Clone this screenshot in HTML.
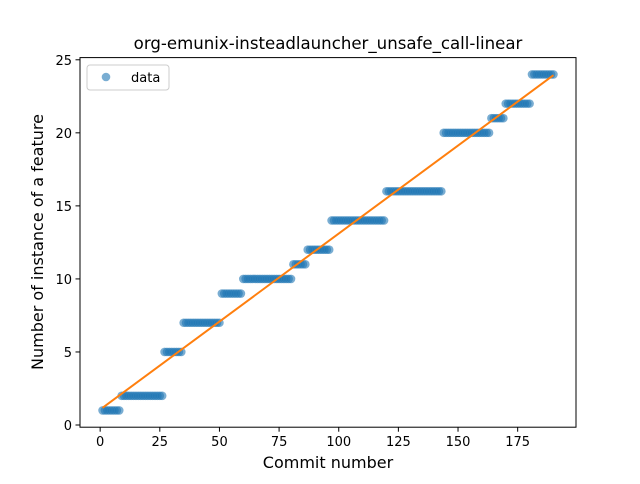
<!DOCTYPE html>
<html><head><meta charset="utf-8"><style>
body{margin:0;background:#fff;font-family:"DejaVu Sans","Liberation Sans",sans-serif}
</style></head><body>
<svg id="c" width="640" height="480" xmlns="http://www.w3.org/2000/svg" font-family="DejaVu Sans, Liberation Sans, sans-serif">
<rect width="640" height="480" fill="#fff"/>
</svg>
<script>
// step data: commits [start..end] have value
const stepStart = [1, 9, 27, 35, 51, 60, 81, 87, 97, 120, 144, 164, 170, 181];
const stepEnd   = [8, 26, 34, 50, 59, 80, 86, 96, 119, 143, 163, 169, 180, 190];
const stepValue = [1, 2, 5, 7, 9, 10, 11, 12, 14, 16, 20, 21, 22, 24];
const xTicks = [0, 25, 50, 75, 100, 125, 150, 175];
const yTicks = [0, 5, 10, 15, 20, 25];

const L=80,R=576,T=57.6,B=427.2;
const xMin=-8.45,xMax=199.45,yMin=-0.15,yMax=25.15;
const sx=v=>L+(v-xMin)/(xMax-xMin)*(R-L);
const sy=v=>B-(v-yMin)/(yMax-yMin)*(B-T);
const svg=document.getElementById('c');
const NS='http://www.w3.org/2000/svg';
function mk(tag,attrs,parent){const e=document.createElementNS(NS,tag);for(const k in attrs)e.setAttribute(k,attrs[k]);(parent||svg).appendChild(e);return e;}

const xs=[],ys=[];
for(let i=0;i<stepValue.length;i++)for(let c=stepStart[i];c<=stepEnd[i];c++){xs.push(c);ys.push(stepValue[i]);}

const pts=mk('g',{});


for(let i=0;i<xs.length;i++){
  const p=mk('circle',{cx:sx(xs[i]),cy:sy(ys[i]),r:4.3,fill:'#1f77b4','fill-opacity':0.6},pts);
  
  
}
// linear fit
const n=xs.length;let mx=0,my=0;for(let i=0;i<n;i++){mx+=xs[i];my+=ys[i];}mx/=n;my/=n;
let sxy=0,sxx=0;for(let i=0;i<n;i++){sxy+=(xs[i]-mx)*(ys[i]-my);sxx+=(xs[i]-mx)**2;}
const m=sxy/sxx,b=my-m*mx;
const x0=xs[0],x1=xs[n-1];
const fl=mk('line',{x1:sx(x0),y1:sy(m*x0+b),x2:sx(x1),y2:sy(m*x1+b),stroke:'#ff7f0e','stroke-width':2});



const fr=mk('rect',{x:L,y:T,width:R-L,height:B-T,fill:'none',stroke:'#000','stroke-width':1});



xTicks.forEach(t=>{
  const x=sx(t);
  mk('line',{x1:x,y1:B,x2:x,y2:B+4.5,stroke:'#000','stroke-width':1});
  const tx=mk('text',{x:x,y:B+19,'text-anchor':'middle','font-size':13});tx.textContent=t;
  
  
});
yTicks.forEach(t=>{
  const y=sy(t);
  mk('line',{x1:L-4.5,y1:y,x2:L,y2:y,stroke:'#000','stroke-width':1});
  const tx=mk('text',{x:L-8,y:y+5,'text-anchor':'end','font-size':13});tx.textContent=t;
  
  
});
let t=mk('text',{x:328,y:49,'text-anchor':'middle','font-size':16.6});t.textContent='org-emunix-insteadlauncher_unsafe_call-linear';


t=mk('text',{x:328,y:468,'text-anchor':'middle','font-size':16});t.textContent='Commit number';


t=mk('text',{x:43,y:242,'text-anchor':'middle','font-size':16,transform:'rotate(-90 43 242)'});t.textContent='Number of instance of a feature';



const lg=mk('g',{});


mk('rect',{x:87,y:65,width:82,height:25,rx:3,fill:'#fff','fill-opacity':0.8,stroke:'#ccc'},lg);
mk('circle',{cx:106,cy:77,r:4.3,fill:'#1f77b4','fill-opacity':0.6},lg);
t=mk('text',{x:131,y:82,'font-size':13},lg);t.textContent='data';


</script>
</body></html>
